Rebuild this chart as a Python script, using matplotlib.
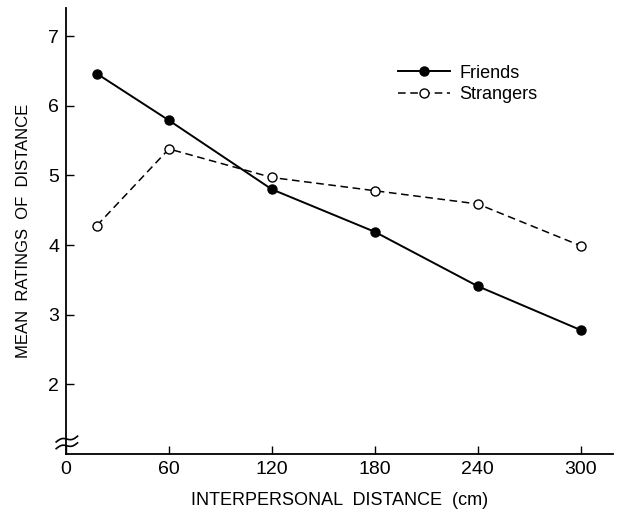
import numpy as np
import matplotlib
matplotlib.use('Agg')
import matplotlib.pyplot as plt

plt.rcParams['font.family'] = ['Liberation Sans', 'DejaVu Sans']

# Daten
distance = [18, 60, 120, 180, 240, 300]
friends = [6.46, 5.79, 4.80, 4.19, 3.41, 2.78]
strangers = [4.28, 5.38, 4.97, 4.78, 4.59, 3.99]
x_ticks = [0, 60, 120, 180, 240, 300]
y_ticks = [2, 3, 4, 5, 6, 7]

fig = plt.figure(figsize=(6.2, 5.14), dpi=100)
ax = fig.add_axes([0.1065, 0.1167, 0.8825, 0.8673])

ax.plot(distance, friends, '-', color='black', lw=1.4, marker='o',
        markersize=6.5, markerfacecolor='black', label='Friends')
ax.plot(distance, strangers, '--', color='black', lw=1.1, marker='o',
        markersize=6.5, markerfacecolor='white', markeredgewidth=1.0,
        dashes=(5, 3), label='Strangers')

ax.set_xlim(0, 319)
ax.set_ylim(1.0, 7.4)
ax.set_xticks(x_ticks)
ax.set_yticks(y_ticks)
ax.tick_params(direction='in', length=6, width=1, labelsize=14, pad=5)

ax.spines['top'].set_visible(False)
ax.spines['right'].set_visible(False)
ax.spines['left'].set_linewidth(1.3)
ax.spines['bottom'].set_linewidth(1.3)

ax.set_xlabel('INTERPERSONAL  DISTANCE  (cm)', fontsize=13, labelpad=10)
ax.set_ylabel('MEAN  RATINGS  OF  DISTANCE', fontsize=12, labelpad=12)

# Achsenbruch
t = np.linspace(0, 1, 30)
for y0 in [0.012, 0.027]:
    xs = -0.018 + 0.039 * t
    ys = y0 + 0.013 * t + 0.004 * np.sin(2 * np.pi * t)
    ax.plot(xs, ys, color='black', lw=1.2, transform=ax.transAxes, clip_on=False)

ax.legend(frameon=False, loc='upper left', bbox_to_anchor=(0.577, 0.91),
          handlelength=2.9, fontsize=13, labelspacing=0.25, handletextpad=0.5)

plt.savefig('out.png', dpi=100)
